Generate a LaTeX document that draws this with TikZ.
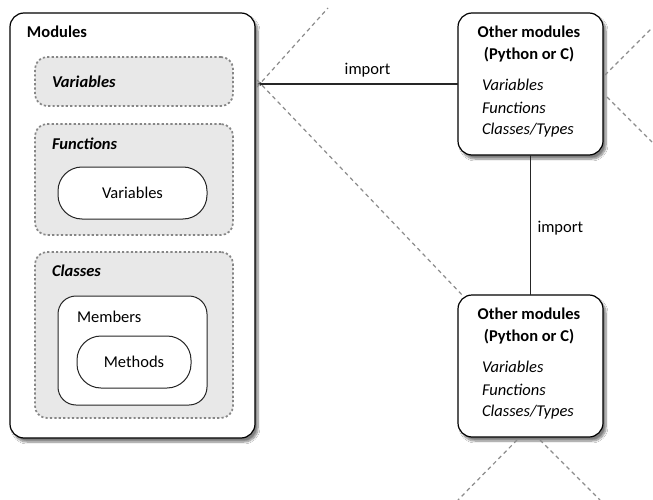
\documentclass[tikz,border=0pt]{standalone}
\usepackage{fontspec}
\setmainfont{Carlito}
\usetikzlibrary{shadows.blur,arrows.meta}
\begin{document}
\begin{tikzpicture}[x=1pt,y=-1pt,
  every node/.style={inner sep=0pt, outer sep=0pt},
  box/.style={draw=black, line width=1.2pt, fill=white, rounded corners=14pt,
    blur shadow={shadow xshift=3pt, shadow yshift=-4pt, shadow blur steps=8, shadow opacity=50}},
  scopebox/.style={draw=gray!95, line width=1.7pt, dash pattern=on 2.2pt off 2.2pt,
    fill=gray!18, rounded corners=12pt},
  innerbox/.style={draw=black!85, line width=1pt, fill=white},
  cone/.style={draw=gray!90, line width=1.2pt, dash pattern=on 4pt off 3.5pt},
  link/.style={draw=black!85, line width=1.1pt},
  fs/.style={font=\fontsize{16.5}{19}\selectfont#1},
  fs/.default={},
  txt/.style={fs},
  lbl/.style={anchor=west},
]
\useasboundingbox[fill=white] (0,0) rectangle (653,500);

% the module boxes
\node[box, minimum width=245pt, minimum height=425pt] (main) at (132.5,225.5) {};
\node[box, minimum width=145pt, minimum height=142pt] (top) at (530.5,84) {};
\node[box, minimum width=145pt, minimum height=142pt] (bot) at (530.5,366) {};

% scopes inside the main module
\node[scopebox, minimum width=198pt, minimum height=49pt] (vars) at (134,81.5) {};
\node[scopebox, minimum width=198pt, minimum height=111pt] (funcs) at (134,179.5) {};
\node[scopebox, minimum width=198pt, minimum height=166pt] (classes) at (134,335) {};
\node[innerbox, rounded corners=24pt, minimum width=149pt, minimum height=52pt] (fvars) at (132.5,193) {};
\node[innerbox, rounded corners=18pt, minimum width=149pt, minimum height=109pt] (members) at (132.5,350.5) {};
\node[innerbox, rounded corners=24pt, minimum width=114pt, minimum height=52pt] (methods) at (134,362) {};

% labels of the main module
\node[lbl, fs=\bfseries] (tmod) at (27,32) {Modules};
\node[lbl, fs=\bfseries\itshape] (tvars) at (52,82) {Variables};
\node[lbl, fs=\bfseries\itshape] (tfuncs) at (52,144) {Functions};
\node[lbl, fs=\bfseries\itshape] (tclasses) at (52,271) {Classes};
\node[txt] (tfvars) at (fvars.center) {Variables};
\node[lbl, txt] (tmembers) at (77,317) {Members};
\node[txt] (tmethods) at (methods.center) {Methods};

% labels of the other modules
\foreach \m/\y in {top/0, bot/282}{
  \node[fs=\bfseries] (\m-t1) at (529,32+\y) {Other modules};
  \node[fs=\bfseries] (\m-t2) at (529,55+\y) {(Python or C)};
  \node[lbl, fs=\itshape] (\m-l1) at (482,85+\y) {Variables};
  \node[lbl, fs=\itshape] (\m-l2) at (482,107.5+\y) {Functions};
  \node[lbl, fs=\itshape] (\m-l3) at (482,130+\y) {Classes/Types};
}

% import connectors
\coordinate (imp) at ([xshift=2pt]main.east |- top.west);
\draw[link, -{Latex[length=4pt,width=4pt]}] (top.west) -- node[txt, above=7pt, pos=0.45] (timp1) {import} (imp);
\draw[link] (top.south) -- node[txt, right=7pt, pos=0.52] (timp2) {import} (bot.north);

% namespace cones
\coordinate (c1) at (328,8);
\coordinate (c2) at (464,297);
\draw[cone] ([yshift=-3pt]imp) -- (c1);
\draw[cone] ([yshift=4pt]imp) -- (c2);
\coordinate (r0a) at (605,75);
\coordinate (r1a) at (652,28);
\coordinate (r0b) at (607,97);
\coordinate (r1b) at (652,142);
\draw[cone] (r0a) -- (r1a);
\draw[cone] (r0b) -- (r1b);
\coordinate (b0a) at (517,440);
\coordinate (b1a) at (458,500);
\coordinate (b0b) at (540,440);
\coordinate (b1b) at (600,500);
\draw[cone] (b0a) -- (b1a);
\draw[cone] (b0b) -- (b1b);
\end{tikzpicture}
\end{document}
